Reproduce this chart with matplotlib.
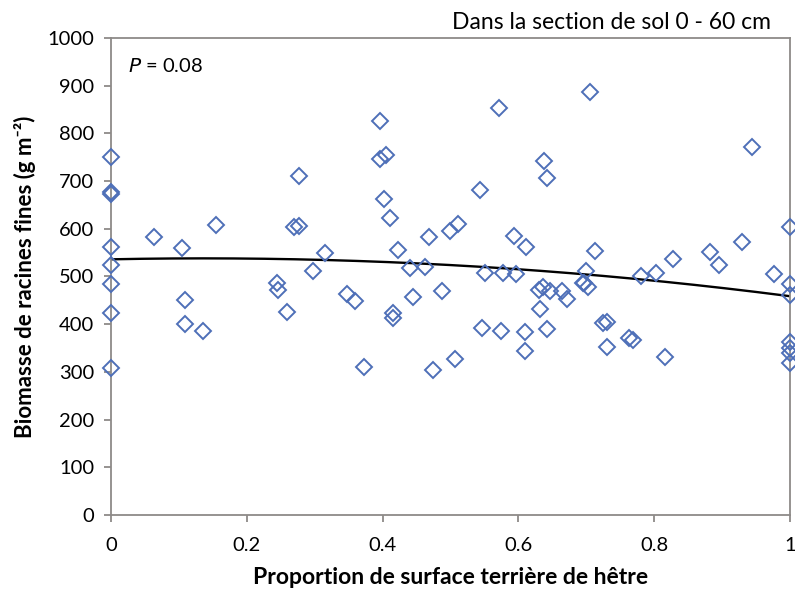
"""Fine root biomass vs beech basal area proportion"""
import matplotlib.pyplot as plt
import numpy as np

plt.rcParams.update({
    'font.family': ['Lato', 'DejaVu Sans'],
    'font.size': 13,
})

MARKER_BLUE = '#4E6FB8'
SPINE_GRAY = '#8E8A88'

# beech basal area proportion (x) and fine root biomass g m-2 (y)
beech_prop = [0, 0, 0, 0, 0, 0, 0, 0,
              0.064, 0.104, 0.109, 0.109, 0.136, 0.154,
              0.245, 0.246, 0.259, 0.270, 0.277, 0.277, 0.297, 0.315,
              0.347, 0.359, 0.372, 0.396, 0.396, 0.405, 0.402, 0.411,
              0.415, 0.415, 0.422, 0.441, 0.445, 0.463, 0.469, 0.474,
              0.487, 0.500, 0.511, 0.507, 0.543, 0.546, 0.551, 0.571,
              0.575, 0.577, 0.593, 0.597, 0.611, 0.610, 0.610, 0.630,
              0.632, 0.636, 0.638, 0.642, 0.642, 0.647, 0.664, 0.671,
              0.695, 0.697, 0.700, 0.703, 0.706, 0.713, 0.724, 0.731,
              0.730, 0.763, 0.769, 0.780, 0.803, 0.816, 0.827, 0.882,
              0.896, 0.929, 0.944, 0.976,
              1.0, 1.0, 1.0, 1.0, 1.0, 1.0, 1.0]
root_biomass = [751, 678, 672, 562, 524, 484, 423, 308,
                583, 560, 451, 400, 386, 608,
                487, 472, 425, 604, 606, 711, 512, 549,
                463, 449, 310, 825, 746, 754, 662, 622,
                423, 412, 556, 518, 458, 519, 582, 305,
                470, 596, 611, 326, 681, 393, 508, 853,
                386, 507, 585, 505, 562, 383, 344, 472,
                432, 477, 743, 706, 390, 470, 470, 452,
                486, 486, 512, 479, 887, 553, 402, 405,
                352, 372, 367, 500, 507, 332, 536, 552,
                524, 572, 772, 505,
                604, 484, 461, 363, 350, 340, 318]

x_ticks = [0, 0.2, 0.4, 0.6, 0.8, 1]
x_tick_labels = ['0', '0.2', '0.4', '0.6', '0.8', '1']
y_ticks = np.arange(0, 1001, 100)

fig = plt.figure(figsize=(7.95, 5.91), dpi=100)
ax = fig.add_axes([0.1396, 0.1286, 0.8541, 0.8071])

ax.plot(beech_prop, root_biomass, linestyle='none', marker='D', ms=7.8,
        mfc='none', mec=MARKER_BLUE, mew=1.4, clip_on=False, zorder=3)

# quadratic fit
coef = np.polyfit(beech_prop, root_biomass, 2)
xs = np.linspace(0, 1, 200)
ax.plot(xs, np.polyval(coef, xs), color='black', lw=1.7, zorder=2)

ax.set_xlim(0, 1)
ax.set_ylim(0, 1000)
ax.set_xticks(x_ticks)
ax.set_xticklabels(x_tick_labels)
ax.set_yticks(y_ticks)

for s in ax.spines.values():
    s.set_color(SPINE_GRAY)
    s.set_linewidth(1.3)
ax.tick_params(direction='out', length=5, width=1.3, color=SPINE_GRAY,
               labelsize=14.5)
ax.tick_params(axis='x', pad=11)
ax.tick_params(axis='y', pad=7)

ax.set_xlabel('Proportion de surface terrière de hêtre', fontweight='bold',
              fontsize=16.5, labelpad=9)
ax.set_ylabel('Biomasse de racines fines (g m⁻²)', fontweight='bold',
              fontsize=16, labelpad=8)

ax.text(0.025, 0.96, '$P$ = 0.08', transform=ax.transAxes, fontsize=14.5,
        va='top', ha='left')
fig.text(0.97, 0.962, 'Dans la section de sol 0 - 60 cm', fontsize=16.5,
         ha='right', va='center')

plt.savefig('out.png', dpi=100)
plt.close()
print("Chart saved: out.png")
